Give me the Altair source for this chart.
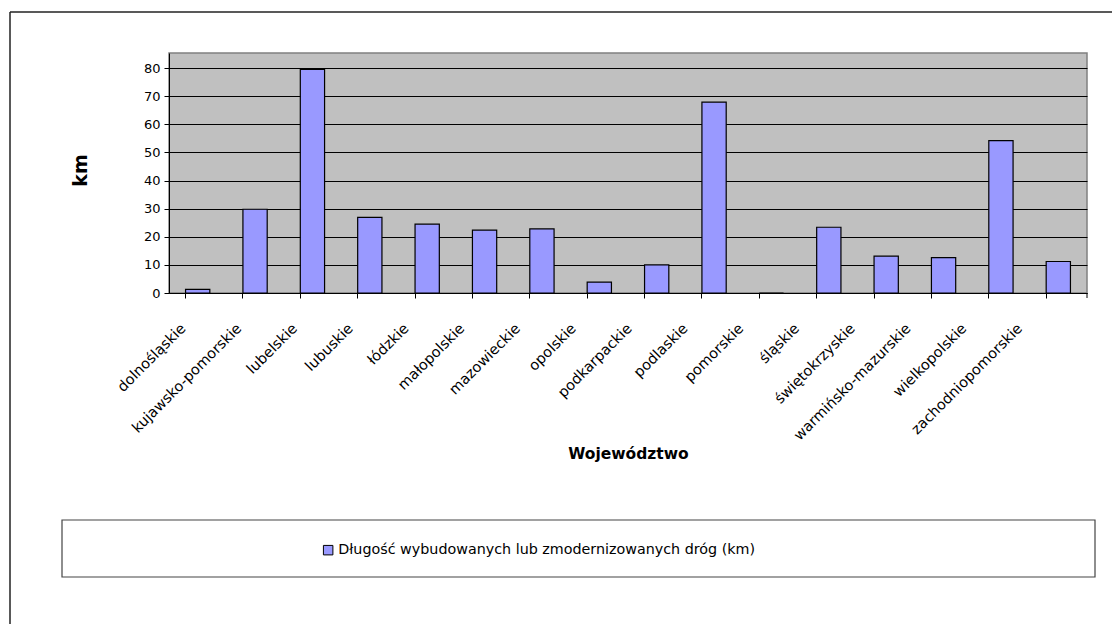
import altair as alt
import pandas as pd

categories = ["dolnośląskie", "kujawsko-pomorskie", "lubelskie", "lubuskie", "łódzkie",
              "małopolskie", "mazowieckie", "opolskie", "podkarpackie", "podlaskie",
              "pomorskie", "śląskie", "świętokrzyskie", "warmińsko-mazurskie",
              "wielkopolskie", "zachodniopomorskie"]
values = [1.3, 29.8, 79.6, 26.9, 24.5, 22.4, 22.8, 3.9, 10.0, 67.9, 0.0, 23.4, 13.1, 12.6, 54.2, 11.2]
series_name = "Długość wybudowanych lub zmodernizowanych dróg (km)"
y_ticks = [0, 10, 20, 30, 40, 50, 60, 70, 80]

df = pd.DataFrame({"woj": categories, "km": values, "series": [series_name] * len(categories)})
one = pd.DataFrame({"a": [0]})

FONT = "DejaVu Sans"
W, H = 918, 240
PAD = {"left": 161, "top": 45, "right": 25, "bottom": 331}

frame_top = alt.Chart(one).mark_rule(stroke="#222222", strokeWidth=1.5).encode(
    x=alt.value(-159), x2=alt.value(W + PAD["right"]), y=alt.value(-41)
)
frame_left = alt.Chart(one).mark_rule(stroke="#222222", strokeWidth=1.5).encode(
    x=alt.value(-159), y=alt.value(-41), y2=alt.value(H + PAD["bottom"])
)
legend_box = alt.Chart(one).mark_rect(fill="white", stroke="#444444", strokeWidth=1.2).encode(
    x=alt.value(-107), x2=alt.value(926), y=alt.value(467), y2=alt.value(524)
)
end_tick = alt.Chart(one).mark_rule(stroke="black", strokeWidth=1).encode(
    x=alt.value(W), y=alt.value(H), y2=alt.value(H + 5)
)

bars = alt.Chart(df).mark_bar(stroke="black", strokeWidth=1.2).encode(
    x=alt.X("woj:N", sort=categories,
            scale=alt.Scale(paddingInner=0.577, paddingOuter=0.2885),
            axis=alt.Axis(title="Województwo", labelAngle=-45, labelFont=FONT, labelFontSize=14.5,
                          labelColor="black", labelAlign="right", labelBaseline="middle",
                          labelPadding=28, labelOffset=alt.ExprRef(expr="-14 - 24*datum.index"),
                          bandPosition=0,
                          ticks=True, tickSize=5, tickColor="black", domainColor="black",
                          titleFont=FONT, titleFontSize=15.5, titleFontWeight="bold",
                          titleColor="black", titleY=160, titleBaseline="middle",
                          labelLimit=300)),
    y=alt.Y("km:Q", scale=alt.Scale(domain=[0, 85.4], nice=False),
            axis=alt.Axis(title="km", values=y_ticks, labelFont=FONT, labelFontSize=13,
                          labelColor="black", tickSize=5, tickColor="black", labelPadding=4,
                          domainColor="black", grid=True, gridColor="black", gridWidth=1,
                          titleFont=FONT, titleFontSize=19, titleFontWeight="bold",
                          titleColor="black", titleX=-89, titleY=117, titleBaseline="middle",
                          titleAngle=-90)),
    color=alt.Color("series:N", scale=alt.Scale(range=["#9999FF"]),
                    legend=alt.Legend(title=None, orient="none", legendX=152, legendY=490,
                                      symbolType="square", symbolSize=90,
                                      symbolStrokeColor="black", symbolStrokeWidth=1,
                                      labelFont=FONT, labelFontSize=14.3, labelColor="black",
                                      labelLimit=600, padding=0, labelOffset=3)),
)

chart = alt.layer(frame_top, frame_left, legend_box, bars, end_tick).properties(
    width=W, height=H,
    autosize=alt.AutoSizeParams(type="none"),
    padding=PAD,
    background="white",
).configure_view(fill="#C0C0C0", stroke="#808080", strokeWidth=1.5)

chart.save("out.html", embed_options={"renderer": "svg", "actions": False})
